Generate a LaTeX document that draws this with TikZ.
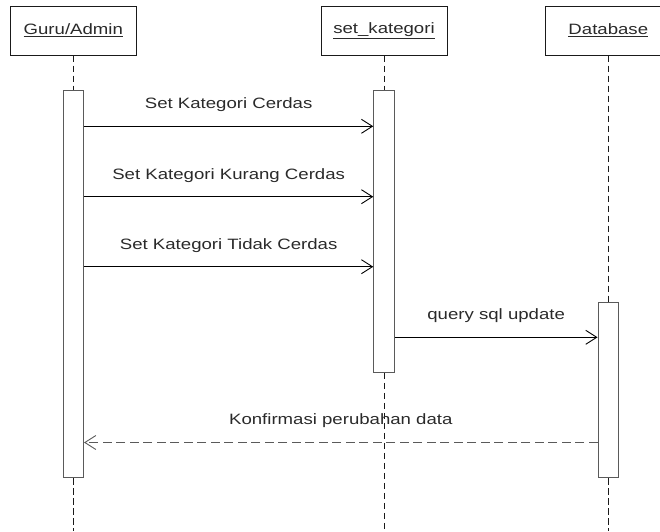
\documentclass[tikz,border=0pt]{standalone}
\usepackage{fontspec}
\newfontfamily\diagfont{Liberation Sans}[FakeStretch=1.24]
\usetikzlibrary{arrows.meta}

\definecolor{inkline}{HTML}{1A1A1A}
\definecolor{barline}{HTML}{5A5A5A}
\definecolor{labeltext}{HTML}{2A2A2A}

\tikzset{
  head/.style={draw=inkline, line width=1pt, fill=white, minimum width=126pt,
    minimum height=49pt, inner sep=0pt,
    font=\diagfont\fontsize{15}{18}\selectfont, text=labeltext},
  bar/.style={draw=barline, line width=1pt, fill=white, minimum width=20.5pt,
    inner sep=0pt},
  life/.style={draw=inkline, line width=0.9pt, dash pattern=on 6.5pt off 3.5pt},
  msg/.style={draw=black, line width=0.9pt,
    -{Straight Barb[length=11pt,width=14pt,line width=0.9pt]}},
  reply/.style={draw=barline, line width=0.9pt, dash pattern=on 9pt off 4.5pt,
    -{Straight Barb[length=11pt,width=14pt,line width=0.9pt]}},
  msglabel/.style={font=\diagfont\fontsize{15}{18}\selectfont, text=labeltext,
    inner sep=0pt, yshift=21.5pt}
}

\begin{document}
\begin{tikzpicture}[x=1pt,y=-1pt]
  \useasboundingbox (0,0) rectangle (660,531);
  \clip (0,0) rectangle (660,531);

  % participants
  \node[head] (guru) at (73.3,30.5)  {\underline{Guru/Admin}};
  \node[head] (setk) at (384,30.5)   {\underline{set\_kategori}};
  \node[head] (db)   at (608.3,30.5) {\underline{Database}};

  % bottom of the page, where lifelines end
  \coordinate (bottom) at (0,531);

  % activation bars
  \node[bar, minimum height=387pt]   (ga) at (73.3,284.2)  {};
  \node[bar, minimum height=281.6pt] (sa) at (384,231.5)   {};
  \node[bar, minimum height=175.7pt] (da) at (608.3,389.85) {};

  % lifelines
  \draw[life] (guru.south) -- (ga.north);
  \draw[life] (ga.south) -- (ga.south |- bottom);
  \draw[life] (setk.south) -- (sa.north);
  \draw[life] (sa.south) -- (sa.south |- bottom);
  \draw[life] (db.south) -- (da.north);
  \draw[life] (da.south) -- (da.south |- bottom);

  % message heights
  \coordinate (m1) at (0,126.3);
  \coordinate (m2) at (0,196.7);
  \coordinate (m3) at (0,266.7);
  \coordinate (m4) at (0,337.3);
  \coordinate (m5) at (0,442.5);

  % messages
  \draw[msg] (ga.east |- m1) -- (sa.west |- m1)
    node[midway, msglabel] {Set Kategori Cerdas};
  \draw[msg] (ga.east |- m2) -- (sa.west |- m2)
    node[midway, msglabel] {Set Kategori Kurang Cerdas};
  \draw[msg] (ga.east |- m3) -- (sa.west |- m3)
    node[midway, msglabel] {Set Kategori Tidak Cerdas};
  \draw[msg] (sa.east |- m4) -- (da.west |- m4)
    node[midway, msglabel] {query sql update};
  \draw[reply] (da.west |- m5) -- (ga.east |- m5)
    node[midway, msglabel] {Konfirmasi perubahan data};
\end{tikzpicture}
\end{document}
